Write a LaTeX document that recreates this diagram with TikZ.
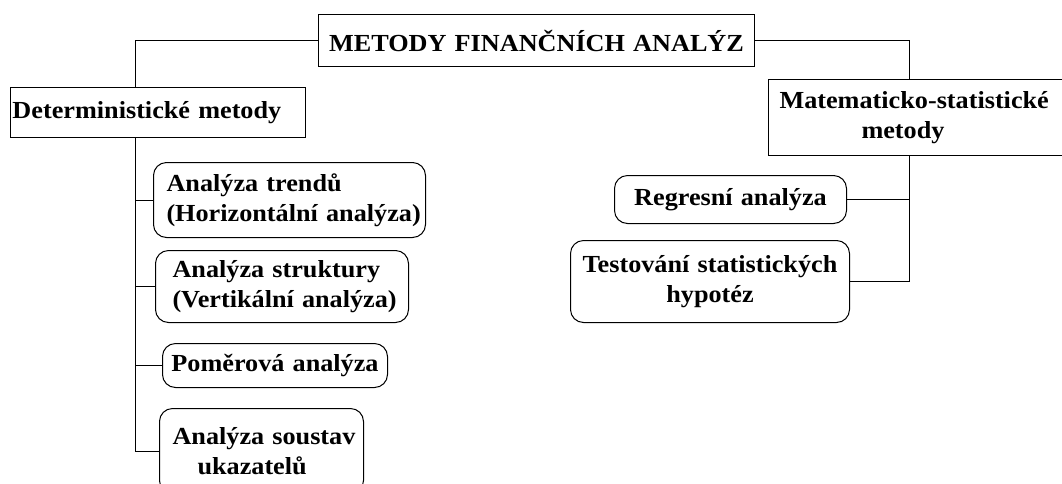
\documentclass[tikz,border=0pt]{standalone}
\usepackage{fontspec}
\setmainfont{Liberation Serif}[FakeStretch=1.07]
\begin{document}
\begin{tikzpicture}[x=1pt,y=-1pt,
  every node/.style={font=\fontsize{24.5}{30}\selectfont\bfseries, inner ysep=0pt},
  sq/.style={draw, line width=1pt, rectangle, anchor=north west},
  rb/.style={draw, line width=1pt, rectangle, rounded corners=13pt, anchor=north west},
  ln/.style={line width=1pt}]
\useasboundingbox (0,0) rectangle (1062,483);
\node[sq, minimum width=436pt, minimum height=52pt, text width=428pt, inner xsep=4pt, align=center] (title) at (318,14) {METODY FINANČNÍCH ANALÝZ};
\node[sq, minimum width=295pt, minimum height=50pt, text width=291pt, inner xsep=2pt, align=left] (det) at (10,87) {Deterministické metody};
\node[sq, minimum width=310pt, minimum height=76pt, text width=288pt, inner xsep=11pt, align=left] (mat) at (768,79) {\mbox{Matematicko-statistické}\\\hspace*{82pt}metody};
\node[rb, minimum width=272pt, minimum height=75pt, text width=246pt, inner xsep=13pt, align=left] (c1) at (153,162) {\mbox{Analýza trendů}\\\mbox{(Horizontální analýza)}};
\node[rb, minimum width=253pt, minimum height=72pt, text width=219pt, inner xsep=17pt, align=left] (c2) at (155,250) {\mbox{Analýza struktury}\\\mbox{(Vertikální analýza)}};
\node[rb, minimum width=225pt, minimum height=44pt, text width=215pt, inner xsep=5pt, align=center] (c3) at (162,343) {Poměrová analýza};
\node[rb, minimum width=204pt, minimum height=85pt, text width=178pt, inner xsep=13pt, align=left] (c4) at (159,408) {\mbox{Analýza soustav}\\\hspace*{25pt}\mbox{ukazatelů}};
\node[rb, minimum width=232pt, minimum height=48pt, text width=222pt, inner xsep=5pt, align=center] (reg) at (614,175) {Regresní analýza};
\node[rb, minimum width=279pt, minimum height=82pt, text width=269pt, inner xsep=5pt, align=center] (test) at (570,240) {\mbox{Testování statistických}\\hypotéz};
\coordinate (lt) at (135,0);
\coordinate (rt) at (909,0);
\draw[ln] (title.west) -- (lt |- title.west) -- (lt |- det.north);
\draw[ln] (lt |- det.south) -- (lt |- c4.west);
\foreach \c in {c1,c2,c3,c4} \draw[ln] (lt |- \c.west) -- (\c.west);
\draw[ln] (title.east) -- (rt |- title.east) -- (rt |- mat.north);
\draw[ln] (rt |- mat.south) -- (rt |- test.east);
\draw[ln] (reg.east) -- (rt |- reg.east);
\draw[ln] (test.east) -- (rt |- test.east);
\end{tikzpicture}
\end{document}
